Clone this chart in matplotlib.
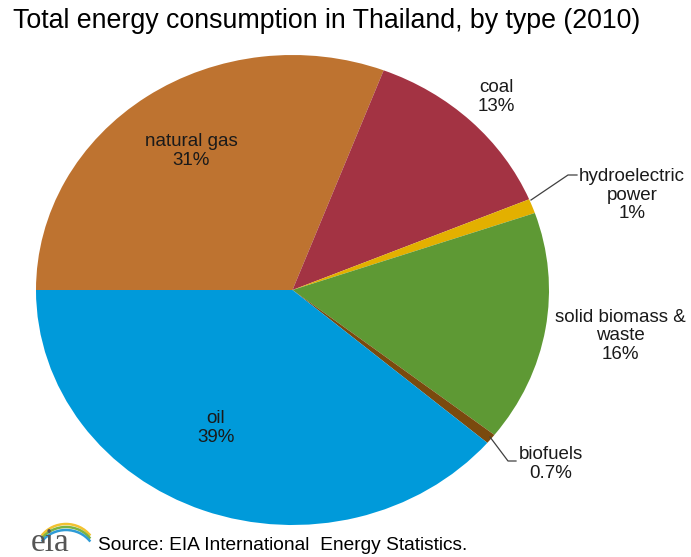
import matplotlib
matplotlib.use('Agg')
import matplotlib.pyplot as plt
from matplotlib.patches import Arc

plt.rcParams['font.family'] = ['Liberation Sans', 'DejaVu Sans']

# Dữ liệu
types = ['natural gas', 'coal', 'hydroelectric\npower', 'solid biomass &\nwaste', 'biofuels', 'oil']
shares = [31, 13, 1, 16, 0.7, 39]
share_labels = ['31%', '13%', '1%', '16%', '0.7%', '39%']
colors = ['#BE7330', '#A33343', '#E3B000', '#5E9934', '#7A4A0E', '#009ADA']

W, H = 691, 557
fig = plt.figure(figsize=(W / 100, H / 100), dpi=100)

# Hình tròn bị kéo giãn theo chiều ngang như ảnh gốc
ax = fig.add_axes([36 / W, 1 - 525 / H, 513 / W, 470 / H])
ax.pie(shares, colors=colors, startangle=180, counterclock=False,
       wedgeprops={'linewidth': 0})
ax.set_aspect('auto')
ax.set_xlim(-1, 1)
ax.set_ylim(-1, 1)
ax.axis('off')


def fx(px):
    return px / W


def fy(py):
    return 1 - py / H


# Nhãn (vị trí theo pixel của ảnh gốc)
label_pos = [(191, 151), (496, 97), (632, 195), (620, 336), (551, 464), (216, 428)]
for name, pct, (px, py) in zip(types, share_labels, label_pos):
    fig.text(fx(px), fy(py), f'{name}\n{pct}', ha='center', va='center',
             fontsize=13.5, color='#1a1a1a', linespacing=1.1)

# Đường dẫn nhãn
fig.add_artist(plt.Line2D([fx(531), fx(568), fx(577)], [fy(200), fy(175), fy(175)],
                          color='#404040', linewidth=0.9))
fig.add_artist(plt.Line2D([fx(490), fx(508), fx(516)], [fy(437), fy(461), fy(461)],
                          color='#404040', linewidth=0.9))

fig.text(fx(13), fy(21), 'Total energy consumption in Thailand, by type (2010)',
         ha='left', va='center', fontsize=19.3, color='black')

fig.text(fx(98), fy(546), 'Source: EIA International  Energy Statistics.',
         ha='left', va='center', fontsize=13.8, color='black')

# Logo eia
fig.text(fx(31), fy(543), 'eia', ha='left', va='center', fontsize=24,
         family='Liberation Serif', color='#555555')
for c, dy in [('#F2C230', 0), ('#7CB342', 3), ('#2E9BD6', 6)]:
    fig.add_artist(Arc((fx(66), fy(552 + dy)), 60 / W, 56 / H, theta1=40, theta2=140,
                       transform=fig.transFigure, color=c, linewidth=1.8))

fig.savefig('out.png', dpi=100)
